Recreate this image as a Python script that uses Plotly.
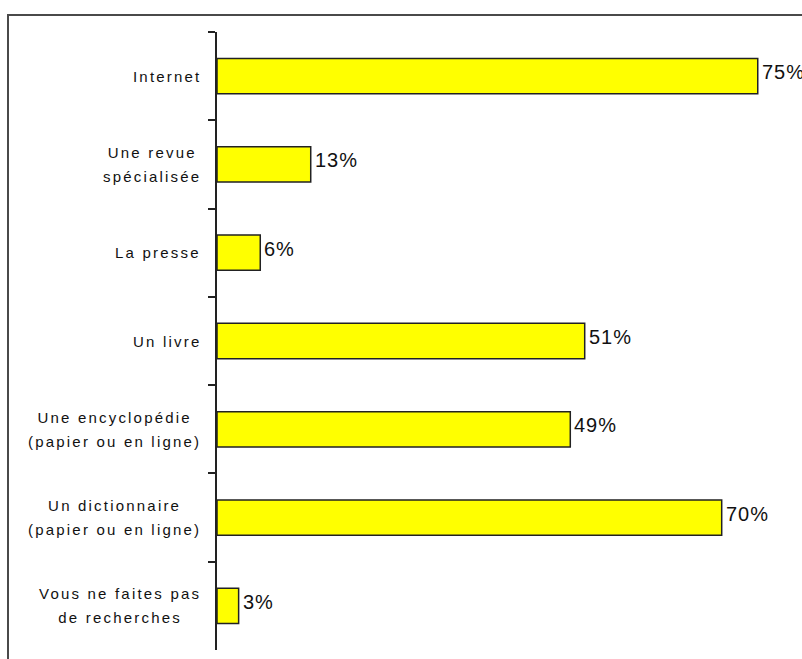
import plotly.graph_objects as go

# Sources used for research (share of respondents, %)
categories = [
    "Internet",
    "Une revue<br>spécialisée",
    "La presse",
    "Un livre",
    "Une encyclopédie<br>(papier ou en ligne)",
    "Un dictionnaire<br>(papier ou en ligne)",
    "Vous ne faites pas<br>de recherches",
]
values = [75, 13, 6, 51, 49, 70, 3]

W, H = 802, 659
M_L, M_R, M_T, M_B = 217, 0, 32, 9
plot_w = W - M_L - M_R
plot_h = H - M_T - M_B
px_per_pct = 7.21


def styled(text, spacing, size=None):
    """Wrap each line of a label in a letter-spaced (optionally resized) span."""
    style = f"letter-spacing:{spacing}px"
    if size is not None:
        style += f";font-size:{size}px"
    return "<br>".join(
        f'<span style="{style}">{line}</span>' for line in text.split("<br>")
    )


fig = go.Figure(
    go.Bar(
        x=values,
        y=categories,
        orientation="h",
        marker=dict(color="#FFFF00", line=dict(color="#222222", width=1.5)),
        width=0.4,
        hoverinfo="skip",
    )
)

annotations = []
# category labels: right-aligned block, centred lines, loose line pitch
for c in categories:
    annotations.append(dict(
        x=0, xref="paper", y=c, yref="y",
        text=styled(c, 2.2, 15), showarrow=False,
        xanchor="right", yanchor="middle", align="center",
        xshift=-14,
        font=dict(family="Liberation Sans, Arial", size=18.5, color="#111111"),
    ))
# value labels next to each bar
for c, v in zip(categories, values):
    annotations.append(dict(
        x=v, xref="x", y=c, yref="y",
        text=styled(f"{v}%", 1), showarrow=False,
        xanchor="left", yanchor="middle",
        xshift=2, yshift=4,
        font=dict(family="Liberation Sans, Arial", size=20, color="#111111"),
    ))

# outer frame around the chart
shapes = [dict(
    type="rect", xref="paper", yref="paper",
    x0=(8 - M_L) / plot_w, x1=1.2,
    y0=-0.2, y1=(H - M_B - 15) / plot_h,
    line=dict(color="#4a4a4a", width=2),
    fillcolor="rgba(0,0,0,0)",
)]

fig.update_layout(
    width=W, height=H,
    margin=dict(l=M_L, r=M_R, t=M_T, b=M_B, pad=0),
    paper_bgcolor="white", plot_bgcolor="white",
    showlegend=False,
    annotations=annotations,
    shapes=shapes,
    xaxis=dict(visible=False, range=[0, plot_w / px_per_pct], fixedrange=True),
    yaxis=dict(
        type="category",
        categoryorder="array", categoryarray=categories,
        range=[len(categories) - 0.5, -0.5],
        showticklabels=False,
        showgrid=False, zeroline=False,
        showline=True, linecolor="#222222", linewidth=2,
        ticks="outside", tickson="boundaries",
        ticklen=7, tickwidth=1.5, tickcolor="#222222",
        fixedrange=True,
    ),
)

fig.write_html("out.html")
